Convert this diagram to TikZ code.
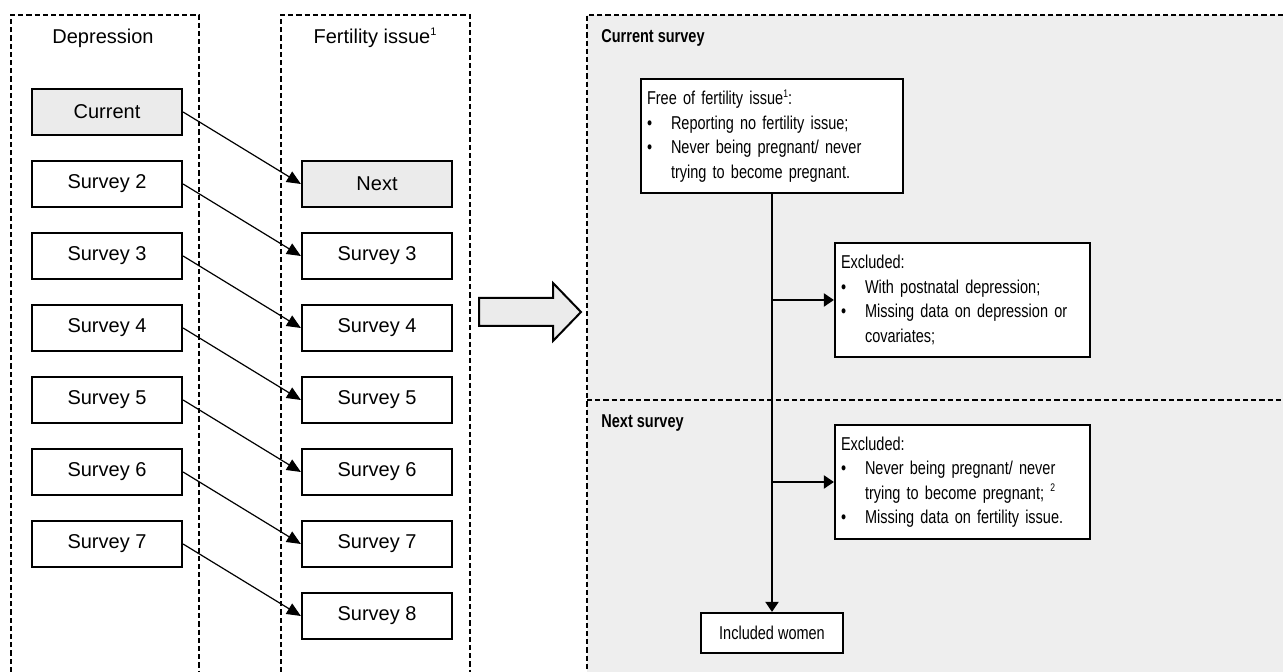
\documentclass[tikz,border=0pt]{standalone}
\usepackage{fontspec}
\setmainfont{Liberation Sans}
\newfontfamily\narrowfont[FakeStretch=0.78]{Liberation Sans}
\usetikzlibrary{arrows.meta}
\definecolor{panelgray}{HTML}{EEEEEE}
\definecolor{boxgray}{HTML}{EBEBEB}
\newcommand{\bulletmark}{\makebox[12pt][l]{\textbullet}}
\newcommand{\hangmark}{\hspace*{12pt}}
\newcommand{\notemark}[1]{\raisebox{0.75ex}{\fontsize{5.5}{6}\selectfont #1}}

\begin{document}
\begin{tikzpicture}[x=0.5pt,y=-0.5pt,
        survey/.style={draw,line width=1.1pt,fill=white,minimum width=75pt,minimum height=23pt,font=\fontsize{10}{12}\selectfont},
        column/.style={dash pattern=on 2.6pt off 1.5pt,line width=0.9pt},
        link/.style={-{Triangle[length=7pt,width=6pt]},line width=0.6pt},
        flowbox/.style={draw,line width=1.1pt,fill=white,align=left,inner sep=3pt,font=\narrowfont\fontsize{9.3}{12.25}\selectfont},
        flow/.style={-{Triangle[length=5pt,width=6.5pt]},line width=1pt}]
        \useasboundingbox (0,0) rectangle (1283,672);

        % survey columns
        \draw[column] (11,672) -- (11,15) -- (199,15) -- (199,672);
        \draw[column] (281,672) -- (281,15) -- (470,15) -- (470,672);
        \node (deptitle) at (103,38) {Depression};
        \node (fertitle) at (375,38) {Fertility issue\notemark{1}};

        \node[survey,fill=boxgray] (d1) at (107,112) {Current};
        \node[survey,fill=boxgray] (f2) at (377,184) {Next};
        \foreach \i in {2,...,7}
            \node[survey] (d\i) at (107,{112+(\i-1)*72}) {Survey \i};
        \foreach \i in {3,...,8}
            \node[survey] (f\i) at (377,{112+(\i-1)*72}) {Survey \i};
        \foreach \i [evaluate=\i as \j using int(\i+1)] in {1,...,7}
            \draw[link] (d\i.east) -- (f\j.west);

        % big arrow
        \draw[line width=1pt,fill=boxgray] (479,298) -- (553,298) -- (553,283) -- (581,312)
            -- (553,341) -- (553,326) -- (479,326) -- cycle;

        % survey panels
        \fill[panelgray] (587,15) rectangle (1283,672);
        \draw[column] (1283,15) -- (587,15) -- (587,672);
        \draw[column] (587,400) -- (1283,400);
        \node[anchor=west,inner sep=0pt,font=\narrowfont\fontsize{9.3}{12}\selectfont\bfseries] (cur) at (601,38) {Current survey};
        \node[anchor=west,inner sep=0pt,font=\narrowfont\fontsize{9.3}{12}\selectfont\bfseries] (nxt) at (601,423) {Next survey};

        \node[flowbox,text width=125pt,minimum height=57pt] (free) at (772,136) {
            Free of fertility issue\notemark{1}:\\
            \bulletmark Reporting no fertility issue;\\
            \bulletmark Never being pregnant/ never\\
            \hangmark trying to become pregnant.};
        \node[flowbox,text width=121.5pt,minimum height=57pt] (ex1) at (962.5,300) {
            Excluded:\\
            \bulletmark With postnatal depression;\\
            \bulletmark Missing data on depression or\\
            \hangmark covariates;};
        \node[flowbox,text width=121.5pt,minimum height=57pt] (ex2) at (962.5,482) {
            Excluded:\\
            \bulletmark Never being pregnant/ never\\
            \hangmark trying to become pregnant; \notemark{2}\\
            \bulletmark Missing data on fertility issue.};
        \node[flowbox,align=center,minimum width=71pt,minimum height=20pt] (incl) at (772,633) {Included women};

        \draw[flow] (free.south) -- (incl.north);
        \draw[flow] (free.south |- ex1.west) -- (ex1.west);
        \draw[flow] (free.south |- ex2.west) -- (ex2.west);
    \end{tikzpicture}
\end{document}
